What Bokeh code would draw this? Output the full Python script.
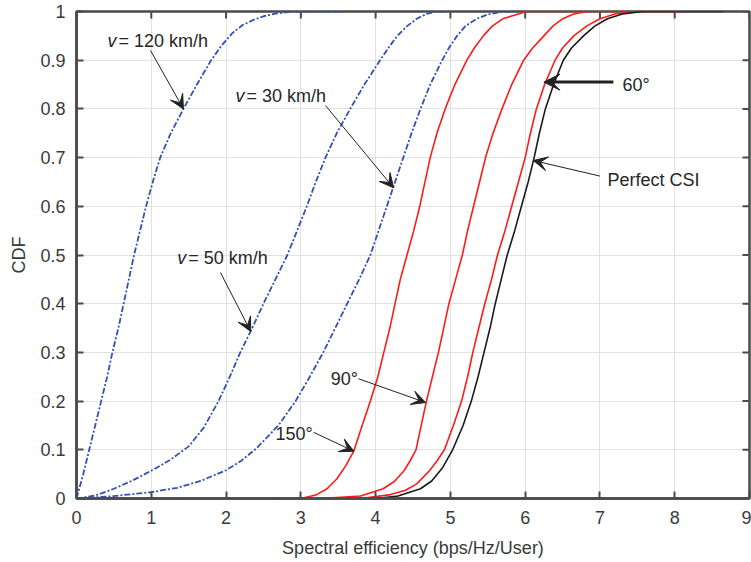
from bokeh.plotting import figure
from bokeh.models import Range1d, FixedTicker, Arrow, VeeHead, Label
from bokeh.embed import file_html
from bokeh.resources import INLINE

# ---------------- data ----------------
x_ticks = [0, 1, 2, 3, 4, 5, 6, 7, 8, 9]
y_ticks = [0, 0.1, 0.2, 0.3, 0.4, 0.5, 0.6, 0.7, 0.8, 0.9, 1]
y_tick_labels = ["0", "0.1", "0.2", "0.3", "0.4", "0.5", "0.6", "0.7", "0.8", "0.9", "1"]

v120_x = [0, 0.09, 0.17, 0.25, 0.33, 0.41, 0.48, 0.56, 0.63, 0.70, 0.77, 0.85, 0.93, 1.02, 1.12,
          1.26, 1.43, 1.61, 1.80, 1.94, 2.08, 2.22, 2.37, 2.52, 2.68, 2.9, 3.57]
v120_y = [0, 0.05, 0.1, 0.15, 0.2, 0.25, 0.3, 0.35, 0.4, 0.45, 0.5, 0.55, 0.6, 0.65, 0.7,
          0.75, 0.8, 0.85, 0.9, 0.93, 0.955, 0.972, 0.983, 0.991, 0.996, 1.0, 1.0]

v50_x = [0, 0.25, 0.5, 0.75, 1.0, 1.25, 1.5, 1.70, 1.90, 2.05, 2.19, 2.35, 2.5, 2.66, 2.82,
         2.95, 3.08, 3.20, 3.33, 3.48, 3.66, 3.85, 4.06, 4.17, 4.29, 4.42, 4.55, 4.68, 4.82, 4.95]
v50_y = [0, 0.006, 0.02, 0.037, 0.057, 0.079, 0.107, 0.145, 0.2, 0.25, 0.3, 0.35, 0.4, 0.45, 0.5,
         0.55, 0.6, 0.65, 0.7, 0.75, 0.8, 0.85, 0.9, 0.925, 0.95, 0.97, 0.985, 0.995, 1.0, 1.0]

v30_x = [0, 0.5, 1.0, 1.35, 1.66, 2.0, 2.2, 2.4, 2.7, 2.93, 3.12, 3.30, 3.46, 3.62, 3.78, 3.93,
         4.04, 4.15, 4.26, 4.37, 4.48, 4.6, 4.73, 4.89, 4.98, 5.09, 5.2, 5.35, 5.5, 5.7, 5.9]
v30_y = [0, 0.005, 0.013, 0.022, 0.036, 0.058, 0.077, 0.102, 0.15, 0.2, 0.25, 0.3, 0.35, 0.4, 0.45, 0.5,
         0.55, 0.6, 0.65, 0.7, 0.75, 0.8, 0.85, 0.9, 0.925, 0.95, 0.97, 0.985, 0.994, 1.0, 1.0]

a150_x = [2.64, 3.0, 3.2, 3.35, 3.48, 3.6, 3.71, 3.82, 3.93, 4.03, 4.11, 4.19, 4.26, 4.33, 4.42,
          4.51, 4.59, 4.66, 4.73, 4.82, 4.93, 5.06, 5.22, 5.32, 5.44, 5.56, 5.7, 6.02, 6.8]
a150_y = [0, 0.0, 0.007, 0.02, 0.04, 0.067, 0.098, 0.15, 0.2, 0.25, 0.3, 0.35, 0.4, 0.45, 0.5,
          0.55, 0.6, 0.65, 0.7, 0.75, 0.8, 0.85, 0.9, 0.925, 0.95, 0.97, 0.985, 1.0, 1.0]

a90_x = [3.26, 3.8, 4.1, 4.25, 4.38, 4.46, 4.54, 4.61, 4.68, 4.76, 4.84, 4.91, 4.98, 5.07, 5.16,
         5.23, 5.31, 5.39, 5.47, 5.57, 5.69, 5.82, 5.98, 6.10, 6.25, 6.37, 6.5, 6.65, 6.83, 7.4]
a90_y = [0, 0.005, 0.02, 0.035, 0.057, 0.077, 0.1, 0.15, 0.2, 0.25, 0.3, 0.35, 0.4, 0.45, 0.5,
         0.55, 0.6, 0.65, 0.7, 0.75, 0.8, 0.85, 0.9, 0.925, 0.95, 0.97, 0.985, 0.995, 1.0, 1.0]

a60_x = [3.8, 4.2, 4.4, 4.55, 4.72, 4.82, 4.92, 5.04, 5.15, 5.23, 5.30, 5.38, 5.46, 5.55, 5.63,
         5.73, 5.82, 5.91, 6.0, 6.07, 6.15, 6.26, 6.40, 6.50, 6.65, 6.82, 7.0, 7.2, 7.5, 8.12]
a60_y = [0, 0.008, 0.017, 0.03, 0.057, 0.077, 0.1, 0.15, 0.2, 0.25, 0.3, 0.35, 0.4, 0.45, 0.5,
         0.55, 0.6, 0.65, 0.7, 0.75, 0.8, 0.85, 0.9, 0.925, 0.95, 0.97, 0.985, 0.995, 1.0, 1.0]

csi_x = [4.0, 4.3, 4.6, 4.75, 4.89, 5.03, 5.17, 5.28, 5.37, 5.45, 5.53, 5.60, 5.68, 5.76, 5.86,
         5.95, 6.04, 6.12, 6.19, 6.27, 6.38, 6.51, 6.62, 6.78, 6.93, 7.1, 7.3, 7.58, 8.65]
csi_y = [0, 0.005, 0.02, 0.036, 0.062, 0.1, 0.15, 0.2, 0.25, 0.3, 0.35, 0.4, 0.45, 0.5, 0.55,
         0.6, 0.65, 0.7, 0.75, 0.8, 0.85, 0.9, 0.925, 0.95, 0.97, 0.985, 0.995, 1.0, 1.0]

# annotations: text position and arrow tail/tip
ann_text = ["60°", "Perfect CSI", "90°", "150°"]
ann_tx = [7.30, 7.10, 3.40, 2.66]
ann_ty = [0.850, 0.654, 0.2455, 0.132]
arr_x0 = [7.18, 7.00, 3.77, 3.17]
arr_y0 = [0.855, 0.662, 0.246, 0.136]
arr_x1 = [6.25, 6.11, 4.67, 3.71]
arr_y1 = [0.855, 0.694, 0.197, 0.097]

v_text = ["= 120 km/h", "= 30 km/h", "= 50 km/h"]
v_tx = [0.414, 2.126, 1.346]
v_ty = [0.940, 0.826, 0.493]
v_arr_x0 = [0.99, 3.33, 1.925]
v_arr_y0 = [0.92, 0.807, 0.464]
v_arr_x1 = [1.43, 4.24, 2.33]
v_arr_y1 = [0.80, 0.638, 0.343]

# ---------------- figure ----------------
FONT = "Liberation Sans"
AX = "#4a4a4a"
TXT = "#3a3a3a"

p = figure(width=751, height=562, x_range=Range1d(0, 9), y_range=Range1d(0, 1),
           output_backend="svg", toolbar_location=None,
           min_border_left=76, min_border_right=2, min_border_top=11, min_border_bottom=64,
           x_axis_label="Spectral efficiency (bps/Hz/User)", y_axis_label="CDF")
p.outline_line_color = AX
p.outline_line_width = 2.5
p.background_fill_color = "white"
p.border_fill_color = "white"

xt = FixedTicker(ticks=x_ticks, minor_ticks=[])
yt = FixedTicker(ticks=y_ticks, minor_ticks=[])

for ax in (p.xaxis[0], p.yaxis[0]):
    ax.axis_line_color = AX
    ax.axis_line_width = 2.5
    ax.major_tick_line_color = AX
    ax.major_tick_line_width = 2
    ax.major_tick_in = 7
    ax.major_tick_out = 0
    ax.minor_tick_line_color = None
    ax.major_label_text_font = FONT
    ax.major_label_text_font_size = "18px"
    ax.major_label_text_color = TXT
    ax.axis_label_text_font = FONT
    ax.axis_label_text_font_size = "18px"
    ax.axis_label_text_font_style = "normal"
    ax.axis_label_text_color = TXT

p.xaxis[0].ticker = xt
p.yaxis[0].ticker = yt
p.xaxis[0].major_label_standoff = 12
p.xaxis[0].axis_label_standoff = 11
p.yaxis[0].major_label_standoff = 11
p.yaxis[0].axis_label_standoff = 8
p.yaxis[0].major_label_overrides = {t: s for t, s in zip(y_ticks, y_tick_labels)}

p.xgrid.ticker = xt
p.ygrid.ticker = yt
p.xgrid.grid_line_color = "#e2e2e2"
p.ygrid.grid_line_color = "#e2e2e2"
p.xgrid.grid_line_width = 1
p.ygrid.grid_line_width = 1

# inward tick marks on the top and right edges of the box
p.ray(x=x_ticks, y=[p.y_range.end] * len(x_ticks), length=7, length_units="screen",
      angle=-90, angle_units="deg", line_color=AX, line_width=2)
p.ray(x=[p.x_range.end] * len(y_ticks), y=y_ticks, length=7, length_units="screen",
      angle=180, angle_units="deg", line_color=AX, line_width=2)

BLUE = "#3550b0"
RED = "#ff1a1a"
for xs, ys in ((v120_x, v120_y), (v50_x, v50_y), (v30_x, v30_y)):
    p.line(xs, ys, line_color=BLUE, line_width=1.8, line_dash="6 2 2 2")
for xs, ys in ((a150_x, a150_y), (a90_x, a90_y), (a60_x, a60_y)):
    p.line(xs, ys, line_color=RED, line_width=1.6)
p.line(csi_x, csi_y, line_color="#1a1a1a", line_width=1.6)

# arrows
ARR = "#222222"
for i in range(len(arr_x0)):
    thick = (i == 0)
    p.add_layout(Arrow(x_start=arr_x0[i], y_start=arr_y0[i], x_end=arr_x1[i], y_end=arr_y1[i],
                       line_color=ARR, line_width=3 if thick else 1,
                       end=VeeHead(size=16 if thick else 14, fill_color=ARR, line_color=ARR, line_width=1)))
for i in range(len(v_arr_x0)):
    p.add_layout(Arrow(x_start=v_arr_x0[i], y_start=v_arr_y0[i], x_end=v_arr_x1[i], y_end=v_arr_y1[i],
                       line_color=ARR, line_width=1,
                       end=VeeHead(size=14, fill_color=ARR, line_color=ARR, line_width=1)))

# labels
for i in range(len(ann_text)):
    p.add_layout(Label(x=ann_tx[i], y=ann_ty[i], text=ann_text[i], text_font=FONT,
                       text_font_size="18px", text_color="#262626", text_baseline="middle",
                       text_align="left"))
for i in range(len(v_text)):
    p.add_layout(Label(x=v_tx[i], y=v_ty[i], text="v", text_font=FONT, text_font_style="italic",
                       text_font_size="18px", text_color="#262626", text_baseline="middle",
                       text_align="left"))
    p.add_layout(Label(x=v_tx[i], y=v_ty[i], x_offset=11, text=v_text[i], text_font=FONT,
                       text_font_size="18px", text_color="#262626", text_baseline="middle",
                       text_align="left"))

open("out.html", "w").write(file_html(p, INLINE))
